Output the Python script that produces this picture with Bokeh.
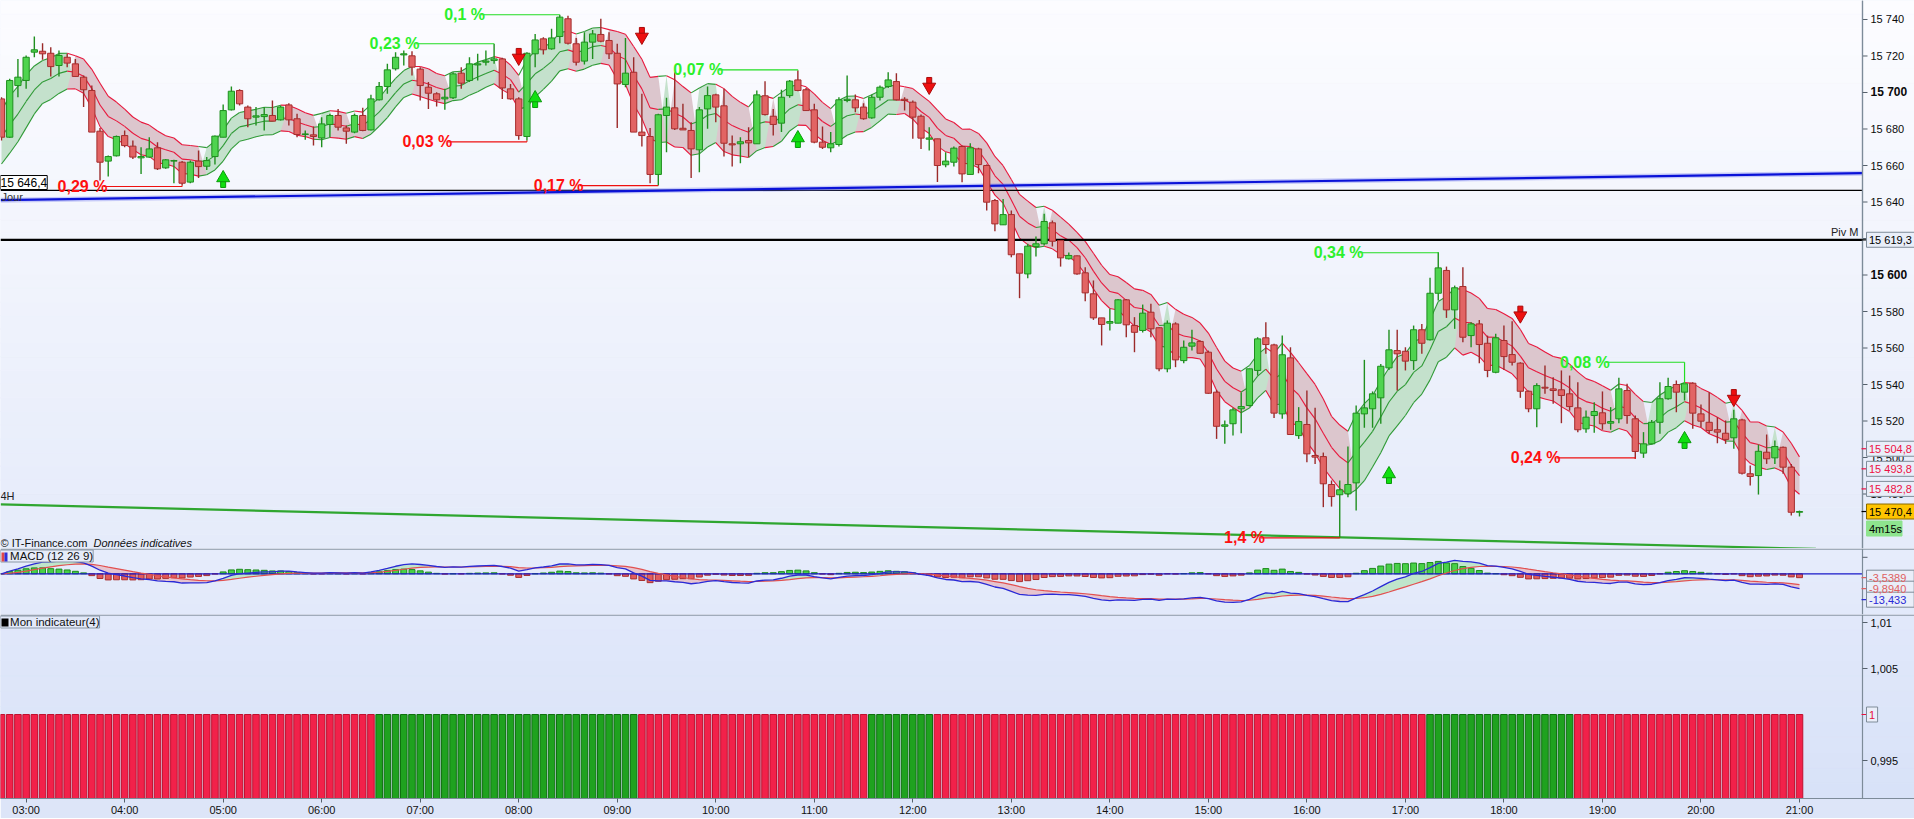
import numpy as np
from bokeh.plotting import figure
from bokeh.models import Range1d, FixedTicker, Label, BoxAnnotation
from bokeh.layouts import column
from bokeh.embed import file_html
from bokeh.resources import INLINE
from bokeh.core.properties import value

FONT = "Liberation Sans"

# ------------------------------------------------------------------ data
# 5-minute candles, first bar 02:45, last bar 21:00 (bar index = position)
hour_labels = ["03:00", "04:00", "05:00", "06:00", "07:00", "08:00", "09:00", "10:00", "11:00",
               "12:00", "13:00", "14:00", "15:00", "16:00", "17:00", "18:00", "19:00", "20:00", "21:00"]
hour_bars = [3, 15, 27, 39, 51, 63, 75, 87, 99, 111, 123, 135, 147, 159, 171, 183, 195, 207, 219]

opens = [
    15696.5, 15675.5, 15703.8, 15706.6, 15722.1, 15722.6, 15721.5, 15714.8, 15719.3, 15715.7,
    15708.4, 15701.1, 15678.8, 15662.4, 15665.3, 15676.4, 15670.6, 15664.2, 15664.6, 15669.7,
    15658.7, 15662.4, 15661.8, 15650.9, 15662.4, 15659.6, 15664.9, 15675.5, 15690.5, 15701.1,
    15692.0, 15686.5, 15686.8, 15687.4, 15685.0, 15693.2, 15685.6, 15677.0, 15676.8, 15675.1,
    15682.5, 15687.4, 15680.6, 15678.3, 15687.4, 15679.5, 15696.0, 15703.3, 15713.0, 15720.6,
    15720.1, 15712.8, 15702.9, 15699.3, 15696.5, 15697.1, 15710.6, 15706.6, 15715.1, 15716.6,
    15717.5, 15718.4, 15702.0, 15696.5, 15675.9, 15721.2, 15729.4, 15723.9, 15730.7, 15740.4,
    15726.7, 15717.2, 15727.6, 15731.8, 15728.5, 15721.5, 15704.4, 15711.1, 15678.3, 15675.9,
    15655.1, 15687.4, 15691.6, 15680.4, 15679.2, 15668.6, 15691.0, 15698.7, 15692.7, 15671.9,
    15671.9, 15673.7, 15671.9, 15698.2, 15687.0, 15683.2, 15698.3, 15706.9, 15701.5, 15690.5,
    15672.8, 15669.7, 15671.5, 15695.6, 15696.0, 15692.0, 15686.1, 15697.4, 15703.3, 15706.0,
    15696.3, 15694.7, 15687.0, 15674.4, 15674.6, 15660.4, 15661.8, 15670.4, 15655.1, 15669.1,
    15660.0, 15640.8, 15627.5, 15633.1, 15611.6, 15600.6, 15615.6, 15617.1, 15628.6, 15618.9,
    15608.9, 15610.5, 15601.2, 15589.7, 15576.5, 15573.6, 15573.6, 15586.4, 15572.3, 15569.6,
    15579.6, 15571.1, 15548.6, 15573.2, 15553.1, 15561.0, 15563.6, 15557.7, 15535.8, 15517.1,
    15518.5, 15526.7, 15528.5, 15547.7, 15565.6, 15561.7, 15523.9, 15554.6, 15512.0, 15518.1,
    15501.1, 15500.5, 15485.2, 15479.6, 15480.1, 15486.1, 15523.9, 15526.7, 15532.7, 15549.1,
    15558.6, 15558.2, 15553.1, 15570.0, 15564.5, 15590.0, 15602.5, 15580.9, 15593.7, 15566.8,
    15573.2, 15562.6, 15546.7, 15564.1, 15556.4, 15551.7, 15536.3, 15526.7, 15538.5, 15537.6,
    15537.1, 15534.9, 15527.2, 15515.7, 15523.0, 15524.5, 15518.8, 15521.2, 15536.7, 15521.2,
    15502.4, 15507.5, 15519.3, 15532.2, 15540.0, 15535.8, 15540.7, 15523.9, 15519.3, 15515.2,
    15513.3, 15510.8, 15520.6, 15491.1, 15490.1, 15502.9, 15499.8, 15505.6, 15494.7, 15470.0]

highs = [
    15697.4, 15707.5, 15718.4, 15720.3, 15730.7, 15727.0, 15724.8, 15723.0, 15721.2, 15718.4,
    15709.3, 15703.8, 15680.6, 15665.5, 15676.4, 15679.2, 15673.7, 15670.0, 15675.5, 15672.8,
    15663.6, 15663.1, 15662.4, 15662.7, 15668.2, 15664.6, 15676.4, 15693.4, 15703.3, 15701.8,
    15692.9, 15692.0, 15692.0, 15695.6, 15692.9, 15694.1, 15688.3, 15679.2, 15681.4, 15686.5,
    15688.3, 15691.0, 15681.9, 15688.3, 15691.6, 15698.7, 15705.7, 15715.7, 15722.1, 15723.0,
    15722.6, 15713.9, 15705.7, 15700.2, 15702.0, 15711.1, 15713.9, 15719.3, 15721.2, 15723.0,
    15726.7, 15719.0, 15704.7, 15697.4, 15722.1, 15732.1, 15730.3, 15734.9, 15742.6, 15742.0,
    15729.9, 15733.0, 15734.3, 15740.4, 15733.0, 15726.7, 15729.9, 15719.3, 15699.3, 15680.6,
    15688.3, 15697.1, 15711.1, 15693.8, 15683.7, 15692.0, 15703.3, 15699.3, 15702.0, 15676.4,
    15675.5, 15681.0, 15701.1, 15706.2, 15691.0, 15701.5, 15706.9, 15712.0, 15702.5, 15693.8,
    15681.4, 15678.3, 15697.4, 15709.3, 15698.9, 15694.1, 15698.9, 15703.8, 15711.1, 15710.6,
    15697.4, 15695.6, 15687.9, 15681.0, 15674.6, 15667.3, 15670.4, 15670.9, 15672.2, 15669.7,
    15660.5, 15641.7, 15641.7, 15635.3, 15611.6, 15617.1, 15621.1, 15633.5, 15629.9, 15618.9,
    15612.3, 15610.7, 15604.3, 15597.0, 15576.5, 15581.5, 15586.9, 15586.9, 15576.9, 15583.8,
    15584.2, 15571.4, 15575.1, 15574.1, 15564.1, 15570.0, 15564.1, 15558.6, 15537.1, 15520.3,
    15527.2, 15535.8, 15548.6, 15565.9, 15574.1, 15562.3, 15566.8, 15560.4, 15527.6, 15536.7,
    15527.2, 15502.7, 15487.4, 15487.4, 15506.0, 15528.5, 15553.5, 15536.2, 15551.3, 15570.0,
    15570.0, 15560.4, 15572.3, 15573.2, 15598.5, 15612.5, 15604.6, 15594.2, 15604.3, 15574.1,
    15575.4, 15566.8, 15567.8, 15572.3, 15574.7, 15552.2, 15536.7, 15540.7, 15550.4, 15544.0,
    15547.7, 15544.9, 15541.2, 15525.7, 15530.3, 15536.2, 15527.6, 15543.7, 15540.4, 15523.0,
    15513.9, 15520.6, 15541.2, 15543.7, 15542.2, 15540.4, 15541.2, 15529.0, 15535.8, 15522.1,
    15520.3, 15526.1, 15521.2, 15495.6, 15507.1, 15512.6, 15509.3, 15506.0, 15496.5, 15470.9]

lows = [
    15673.7, 15675.1, 15697.4, 15702.0, 15719.3, 15717.9, 15708.8, 15708.8, 15713.9, 15708.8,
    15692.0, 15678.3, 15651.8, 15654.0, 15664.9, 15670.0, 15663.6, 15655.4, 15664.2, 15657.6,
    15658.2, 15650.3, 15649.0, 15650.3, 15653.2, 15657.6, 15660.5, 15675.5, 15690.1, 15692.9,
    15681.0, 15681.9, 15679.2, 15684.3, 15684.6, 15681.9, 15675.5, 15674.1, 15670.9, 15670.0,
    15675.5, 15679.2, 15671.9, 15677.7, 15678.8, 15679.2, 15695.6, 15699.3, 15712.0, 15714.8,
    15709.3, 15695.6, 15691.0, 15692.3, 15690.5, 15696.5, 15702.0, 15705.7, 15706.6, 15714.8,
    15715.7, 15696.5, 15696.0, 15674.1, 15673.7, 15713.9, 15720.8, 15723.4, 15727.0, 15726.3,
    15714.8, 15715.3, 15718.4, 15727.6, 15718.4, 15680.6, 15702.9, 15678.3, 15670.4, 15650.3,
    15649.0, 15667.3, 15679.5, 15679.5, 15653.2, 15656.3, 15680.1, 15683.7, 15664.9, 15659.4,
    15661.3, 15664.6, 15671.9, 15687.4, 15676.4, 15678.3, 15697.1, 15700.7, 15689.8, 15672.2,
    15669.1, 15667.3, 15670.4, 15694.7, 15689.2, 15685.0, 15685.6, 15695.6, 15702.5, 15695.6,
    15690.1, 15674.6, 15669.1, 15668.2, 15650.9, 15659.1, 15659.4, 15650.8, 15655.1, 15655.8,
    15635.3, 15624.0, 15627.5, 15609.7, 15587.3, 15598.2, 15610.1, 15616.2, 15615.6, 15604.6,
    15608.5, 15600.2, 15585.6, 15575.4, 15561.4, 15569.6, 15573.5, 15565.9, 15557.7, 15568.5,
    15565.9, 15547.3, 15546.7, 15549.5, 15551.7, 15558.6, 15556.8, 15534.9, 15510.2, 15507.5,
    15512.0, 15513.3, 15527.9, 15544.9, 15556.8, 15521.7, 15521.2, 15512.6, 15510.2, 15497.4,
    15496.5, 15472.8, 15473.1, 15456.3, 15478.2, 15470.9, 15516.3, 15516.3, 15518.5, 15548.0,
    15536.7, 15547.7, 15548.0, 15556.8, 15564.1, 15586.0, 15576.5, 15570.5, 15563.2, 15560.4,
    15551.7, 15544.0, 15546.2, 15548.0, 15550.4, 15532.7, 15524.8, 15516.6, 15534.9, 15529.4,
    15518.8, 15525.7, 15513.9, 15513.5, 15513.5, 15515.2, 15515.2, 15518.8, 15518.5, 15499.3,
    15499.8, 15507.1, 15513.0, 15531.6, 15524.8, 15531.2, 15515.7, 15516.6, 15513.0, 15507.8,
    15507.5, 15504.8, 15490.7, 15484.6, 15479.7, 15496.5, 15496.5, 15491.1, 15468.2, 15467.7]

closes = [
    15675.5, 15706.6, 15708.4, 15719.3, 15723.4, 15721.2, 15714.2, 15720.3, 15716.1, 15708.8,
    15701.5, 15678.3, 15661.8, 15664.9, 15675.9, 15670.9, 15664.6, 15664.9, 15669.1, 15658.2,
    15663.1, 15662.7, 15650.3, 15661.8, 15659.4, 15662.7, 15676.1, 15690.1, 15700.7, 15693.8,
    15685.6, 15687.2, 15687.9, 15684.3, 15692.0, 15685.0, 15677.0, 15677.3, 15675.9, 15682.8,
    15687.4, 15681.0, 15678.8, 15687.4, 15679.2, 15696.5, 15703.3, 15712.4, 15719.3, 15721.2,
    15713.9, 15703.8, 15699.6, 15696.0, 15697.4, 15710.2, 15705.1, 15715.7, 15715.7, 15717.2,
    15718.4, 15702.5, 15696.5, 15676.4, 15721.5, 15728.8, 15723.4, 15729.9, 15741.3, 15727.0,
    15716.6, 15727.6, 15732.1, 15728.1, 15721.2, 15704.7, 15710.6, 15678.3, 15676.4, 15655.1,
    15687.8, 15692.0, 15680.1, 15679.5, 15669.1, 15690.5, 15698.3, 15692.0, 15672.2, 15671.3,
    15673.0, 15672.4, 15698.7, 15687.9, 15682.5, 15697.4, 15706.2, 15701.1, 15690.1, 15672.8,
    15670.0, 15671.9, 15696.0, 15696.3, 15691.6, 15685.6, 15697.4, 15702.9, 15706.9, 15696.0,
    15695.6, 15686.5, 15675.0, 15675.1, 15660.0, 15662.4, 15669.5, 15655.4, 15669.7, 15660.5,
    15639.9, 15628.0, 15633.1, 15611.1, 15601.0, 15615.8, 15617.1, 15629.3, 15618.5, 15609.4,
    15610.7, 15600.6, 15590.2, 15576.5, 15572.9, 15574.5, 15586.4, 15572.7, 15568.6, 15579.1,
    15570.5, 15548.6, 15573.6, 15553.5, 15560.4, 15562.8, 15557.1, 15535.2, 15517.1, 15517.9,
    15526.1, 15527.9, 15548.6, 15565.0, 15561.9, 15524.3, 15556.3, 15512.6, 15519.7, 15502.0,
    15500.2, 15485.6, 15478.6, 15482.3, 15485.2, 15524.3, 15527.2, 15534.9, 15550.0, 15559.0,
    15556.8, 15552.8, 15570.0, 15562.6, 15590.0, 15603.9, 15580.9, 15593.0, 15565.9, 15573.2,
    15561.9, 15547.7, 15565.6, 15555.3, 15552.2, 15536.3, 15526.7, 15539.4, 15538.0, 15536.7,
    15534.0, 15527.9, 15515.2, 15522.1, 15525.2, 15518.5, 15519.7, 15537.6, 15523.0, 15503.3,
    15507.5, 15519.3, 15532.2, 15538.9, 15535.8, 15540.4, 15524.3, 15519.9, 15514.8, 15513.9,
    15509.9, 15521.2, 15491.4, 15489.6, 15503.4, 15499.3, 15506.0, 15494.7, 15470.0, 15470.4]

# swing annotations (zig-zag percentage labels)
swing_bar = [22, 60, 64, 68, 80, 97, 163, 175, 199, 205]
swing_level = [15648.5, 15726.7, 15673.0, 15742.6, 15649.0, 15712.4, 15456.0, 15612.2, 15499.8, 15552.2]
swing_text = ["0,29 %", "0,23 %", "0,03 %", "0,1 %", "0,17 %", "0,07 %", "1,4 %", "0,34 %", "0,24 %", "0,08 %"]
swing_kind = ["lo", "hi", "lo", "hi", "lo", "hi", "lo", "hi", "lo", "hi"]

# signal arrows
up_arrow_bar = [27, 65, 97, 169, 205]
up_arrow_price = [15651.8, 15695.6, 15673.7, 15489.6, 15508.8]
down_arrow_bar = [63, 78, 113, 185, 211]
down_arrow_price = [15720.3, 15731.8, 15704.4, 15579.1, 15533.4]

# drawn lines / levels
trend_blue_x = [-0.1, 226.7]
trend_blue_y = [15641.0, 15655.8]
trend_green_x = [-0.1, 221.0]
trend_green_y = [15474.3, 15449.9]
jour_level = 15646.4
jour_text = "15 646,4"
piv_m_level = 15619.3
piv_m_text = "15 619,3"
band_last = [15504.8, 15493.8, 15482.8]
band_last_text = ["15 504,8", "15 493,8", "15 482,8"]
last_price = 15470.4
last_price_text = "15 470,4"
countdown_text = "4m15s"
main_ticks = [15480, 15500, 15520, 15540, 15560, 15580, 15620, 15640, 15660, 15680, 15720, 15740]
main_tick_text = ["15 480", "15 500", "15 520", "15 540", "15 560", "15 580", "15 620", "15 640",
                  "15 660", "15 680", "15 720", "15 740"]
main_bold_ticks = [15600, 15700]
main_bold_text = ["15 600", "15 700"]

macd_box_values = [-3.5389, -9.8940, -13.433]
macd_box_text = ["-3,5389", "-9,8940", "-13,433"]
macd_ticks = [15.0]

ind_runs = [("R", 46), ("G", 32), ("R", 28), ("G", 8), ("R", 60), ("G", 18), ("R", 28)]
ind_ticks = [0.995, 1.005, 1.01]
ind_tick_text = ["0,995", "1,005", "1,01"]
ind_box_value = 1.0
ind_box_text = "1"

# ------------------------------------------------------------------ layout constants
FW = 1914                 # frame width (px) - axis area drawn inside the frame
AXIS_PX = 1862            # x pixel of the right price axis line
PXB = 8.21                # pixels per 5-min bar
X0 = -1.0 / PXB
X1 = X0 + FW / PXB
XA = X0 + AXIS_PX / PXB


def dx(px):
    return px / PXB


MAIN_H, MACD_H, IND_H = 548, 66, 184
Y_TOP, Y_BOT = 15750.41, 15450.14
PX = (Y_TOP - Y_BOT) / MAIN_H
M_TOP, M_BOT = 23.0, -37.0
MPX = (M_TOP - M_BOT) / MACD_H
I_TOP, I_BOT = 1.01087, 0.99087
IPX = (I_TOP - I_BOT) / IND_H
AXIS_GREY = "#7d8b99"
SEP_GREY = "#8a97a5"

o = np.array(opens); h = np.array(highs); l = np.array(lows); c = np.array(closes)
h = np.maximum(h, np.maximum(o, c)); l = np.minimum(l, np.minimum(o, c))
idx = np.arange(len(c))
bull = c >= o


def ema(a, n):
    k = 2.0 / (n + 1)
    out = np.empty(len(a))
    out[0] = a[0]
    for i in range(1, len(a)):
        out[i] = out[i - 1] + k * (a[i] - out[i - 1])
    return out


xr = Range1d(X0, X1)


def hexcol(rgb):
    return "#%02x%02x%02x" % tuple(int(round(v)) for v in rgb)


def gradient(p, y0, y1, c_top, c_bot, n=40):
    ys = np.linspace(y0, y1, n + 1)
    cols = [hexcol([cb + (ct - cb) * (k + 0.5) / n for ct, cb in zip(c_top, c_bot)]) for k in range(n)]
    p.quad(left=X0 - 5, right=X1 + 5, bottom=ys[:-1], top=ys[1:], fill_color=cols,
           line_color=cols, line_width=0.6, level="image")


def mkfig(fh, yr, fill, xaxis=False):
    p = figure(title=None, frame_width=FW, frame_height=fh, x_range=xr, y_range=yr,
               output_backend="svg", toolbar_location=None, y_axis_location=None,
               x_axis_location="below" if xaxis else None,
               min_border_left=0, min_border_right=0, min_border_top=0, min_border_bottom=0)
    p.grid.visible = False
    p.border_fill_color = fill
    p.background_fill_color = fill
    p.outline_line_color = None
    return p


def right_axis(p, ticks, texts, ytop, ybot, bold=False):
    p.segment(x0=XA, y0=ybot, x1=XA, y1=ytop, line_color=AXIS_GREY, line_width=1.2)
    if ticks:
        p.segment(x0=XA, y0=ticks, x1=XA + dx(5), y1=ticks, line_color="#55606c", line_width=1)
        p.text(x=XA + dx(8), y=ticks, text=texts, text_baseline="middle", text_align="left",
               text_font=value(FONT), text_font_size="12px" if bold else "11px",
               text_font_style="bold" if bold else "normal", text_color="#0a0a0a")


def boxes(p, ys, texts, colors, bgs, borders, tick_colors):
    widths = [len(t) * 6.1 + 5 for t in texts]
    xs = [XA + dx(4 + w / 2.0) for w in widths]
    p.segment(x0=XA - dx(1), y0=ys, x1=XA + dx(5), y1=ys, line_color=tick_colors, line_width=1.2)
    p.rect(x=xs, y=ys, width=widths, height=15, width_units="screen", height_units="screen",
           fill_color=bgs, line_color=borders, line_width=1)
    p.text(x=XA + dx(6.5), y=ys, text=texts, text_color=colors, text_baseline="middle",
           text_align="left", text_font=value(FONT), text_font_size="11px")


# ------------------------------------------------------------------ main panel
p = mkfig(MAIN_H, Range1d(Y_BOT, Y_TOP), "#eef2fd")
gradient(p, Y_BOT, Y_TOP, (252, 252, 255), (229, 235, 250))

# envelope band (EMA of closes +/- fraction of average range)
mid = ema(c, 8)
half = 0.62 * ema(h - l, 10)
upper = mid + half
lower = mid - half
rising = np.r_[True, np.diff(mid) > 0]
p.varea(x=idx, y1=lower, y2=np.where(rising, upper, lower), fill_color="#c4e1cc")
p.varea(x=idx, y1=lower, y2=np.where(~rising, upper, lower), fill_color="#dcc6cd")
seg_col = ["#2f9a36" if r else "#e8173c" for r in rising[1:]]
for band in (upper, mid, lower):
    p.segment(x0=idx[:-1], y0=band[:-1], x1=idx[1:], y1=band[1:], line_color=seg_col, line_width=1.1)

# levels & trend lines
p.segment(x0=X0, y0=jour_level, x1=XA, y1=jour_level, line_color="#000000", line_width=1.3)
p.segment(x0=X0, y0=piv_m_level, x1=XA, y1=piv_m_level, line_color="#000000", line_width=2.2)
p.line(trend_blue_x, trend_blue_y, line_color="#6f78ee", line_width=5, line_alpha=0.35)
p.line(trend_blue_x, trend_blue_y, line_color="#0a12d8", line_width=2.2)
p.line(trend_green_x, trend_green_y, line_color="#2fa62f", line_width=2.2)

# candles
wick_col = ["#1f8f1f" if b else "#9b2a2a" for b in bull]
p.segment(x0=idx, y0=l, x1=idx, y1=h, line_color=wick_col, line_width=1.4)
p.vbar(x=idx, width=0.76, top=np.maximum(o, c), bottom=np.minimum(o, c),
       fill_color=["#4fd44f" if b else "#e26464" for b in bull],
       line_color=["#1e8e1e" if b else "#a42e2e" for b in bull], line_width=1)

# swing annotations
sb = np.array(swing_bar)
sl = np.array(swing_level)
scol_line = ["#22dd22" if k == "hi" else "#ee1010" for k in swing_kind]
scol_text = ["#2cf02c" if k == "hi" else "#ff1010" for k in swing_kind]
ext = np.array([h[b] if k == "hi" else l[b] for b, k in zip(swing_bar, swing_kind)])
p.segment(x0=sb - 9.6, y0=sl, x1=sb, y1=sl, line_color=scol_line, line_width=1.2)
p.segment(x0=sb, y0=sl, x1=sb, y1=ext, line_color=scol_line, line_width=1.2)
p.text(x=sb - 9.1, y=sl, text=swing_text, text_align="right", text_baseline="middle",
       text_font=value(FONT), text_font_size="16px", text_font_style="bold", text_color=scol_text)

# arrows
ub = np.array(up_arrow_bar); up_ = np.array(up_arrow_price)
db = np.array(down_arrow_bar); dp_ = np.array(down_arrow_price)
p.rect(x=ub, y=up_ - 3.0 * PX, width=5, height=8, width_units="screen", height_units="screen",
       fill_color="#10e010", line_color="#0a9a0a")
p.scatter(x=ub, y=up_ + 2.5 * PX, marker="triangle", size=13, fill_color="#10e010", line_color="#0a9a0a")
p.rect(x=db, y=dp_ + 3.0 * PX, width=5, height=8, width_units="screen", height_units="screen",
       fill_color="#ee1010", line_color="#aa0a0a")
p.scatter(x=db, y=dp_ - 2.5 * PX, marker="inverted_triangle", size=13, fill_color="#ee1010",
          line_color="#aa0a0a")

# texts inside the panel
p.add_layout(Label(x=0, x_units="screen", y=jour_level + 0.8 * PX, text=jour_text, text_font=FONT,
                   text_font_size="12px", text_color="#000000", text_baseline="bottom",
                   background_fill_color="#ffffff", border_line_color="#000000"))
p.add_layout(Label(x=1, x_units="screen", y=jour_level - 0.3 * PX, text="Jour", text_font=FONT,
                   text_font_size="11px", text_color="#333333", text_baseline="top"))
p.add_layout(Label(x=AXIS_PX - 4, x_units="screen", y=piv_m_level + 1.5 * PX, text="Piv M", text_font=FONT,
                   text_font_size="11px", text_color="#222222", text_align="right", text_baseline="bottom"))
p.add_layout(Label(x=0, x_units="screen", y=trend_green_y[0] + 2 * PX, text="4H", text_font=FONT,
                   text_font_size="11px", text_color="#222222", text_baseline="bottom"))
p.add_layout(Label(x=0, x_units="screen", y=Y_BOT + 6 * PX, text="\u00a9 IT-Finance.com",
                   text_font=FONT, text_font_size="11px", text_color="#111111", text_baseline="middle"))
p.add_layout(Label(x=93, x_units="screen", y=Y_BOT + 6 * PX, text="Donn\u00e9es indicatives",
                   text_font=FONT, text_font_size="11px", text_font_style="italic",
                   text_color="#111111", text_baseline="middle"))

# price axis
right_axis(p, main_ticks, main_tick_text, Y_TOP, Y_BOT)
right_axis(p, main_bold_ticks, main_bold_text, Y_TOP, Y_BOT, bold=True)
bx_y = [piv_m_level] + band_last + [last_price, last_price - 17 * PX]
bx_t = [piv_m_text] + band_last_text + [last_price_text, countdown_text]
boxes(p, bx_y, bx_t,
      ["#000000", "#ee1044", "#ee1044", "#ee1044", "#000000", "#000000"],
      ["#e9eef9", "#e9eef9", "#e9eef9", "#e9eef9", "#ffc400", "#8ee48e"],
      ["#7f8c99", "#7f8c99", "#7f8c99", "#7f8c99", "#8a6a00", "#8ee48e"],
      ["#000000", "#ee1044", "#ee1044", "#ee1044", "#000000", None])

# ------------------------------------------------------------------ MACD panel
pm = mkfig(MACD_H, Range1d(M_BOT, M_TOP), "#e5ebfb")
gradient(pm, M_BOT, M_TOP, (230, 236, 251), (226, 233, 250), n=6)
pm.segment(x0=X0, y0=M_TOP - 0.6 * MPX, x1=X1, y1=M_TOP - 0.6 * MPX, line_color=SEP_GREY, line_width=1.2)

macd = ema(c, 12) - ema(c, 26)
sig = ema(macd, 9)
hist = macd - sig
pm.varea(x=idx, y1=sig, y2=np.where(macd > sig, macd, sig), fill_color="#bfe5cb")
pm.varea(x=idx, y1=sig, y2=np.where(macd <= sig, macd, sig), fill_color="#e6c4cf")
pm.vbar(x=idx, width=0.72, top=np.maximum(hist, 0), bottom=np.minimum(hist, 0),
        fill_color=["#48d048" if v >= 0 else "#e25c5c" for v in hist],
        line_color=["#1e8a1e" if v >= 0 else "#a83030" for v in hist], line_width=1)
pm.segment(x0=X0, y0=0, x1=XA, y1=0, line_color="#1818c8", line_width=1.2)
pm.line(idx, sig, line_color="#e25050", line_width=1.2)
pm.line(idx, macd, line_color="#2a2ad6", line_width=1.3)

pm.add_layout(Label(x=0, x_units="screen", y=M_TOP - 1.5 * MPX,
                    text="\u00a0\u00a0\u00a0MACD (12 26 9)", text_font=FONT,
                    text_font_size="11.5px", text_color="#111111", text_baseline="top",
                    background_fill_color="#e6ecf9", border_line_color=SEP_GREY))
pm.add_layout(BoxAnnotation(left=1, right=4, left_units="screen", right_units="screen",
                            top=M_TOP - 4 * MPX, bottom=M_TOP - 13 * MPX, fill_color="#e04848",
                            fill_alpha=1, line_color=None))
pm.add_layout(BoxAnnotation(left=4, right=7, left_units="screen", right_units="screen",
                            top=M_TOP - 4 * MPX, bottom=M_TOP - 13 * MPX, fill_color="#3030d8",
                            fill_alpha=1, line_color=None))
right_axis(pm, macd_ticks, [""], M_TOP, M_BOT)
# stack the value boxes so they do not overlap (as the platform does)
m_y = []
for v in macd_box_values:
    yy = v if not m_y else min(v, m_y[-1] - 11 * MPX)
    m_y.append(yy)
boxes(pm, m_y, macd_box_text, ["#e06060", "#e06060", "#2a2ad6"], ["#e9eef9"] * 3, ["#7f8c99"] * 3,
      ["#e06060", "#e06060", "#2a2ad6"])

# ------------------------------------------------------------------ indicator panel
pi = mkfig(IND_H, Range1d(I_BOT, I_TOP), "#dde5f8", xaxis=True)
gradient(pi, I_BOT, I_TOP, (225, 232, 250), (216, 226, 248), n=12)
pi.segment(x0=X0, y0=I_TOP - 0.6 * IPX, x1=X1, y1=I_TOP - 0.6 * IPX, line_color=SEP_GREY, line_width=1.2)

states = []
for s, n in ind_runs:
    states += [s] * n
ind_values = [1.0] * len(states)
pi.vbar(x=idx[:len(states)], width=0.8, top=ind_values, bottom=I_BOT - 0.01,
        fill_color=["#1fa21f" if s == "G" else "#f2214a" for s in states],
        line_color=["#0f700f" if s == "G" else "#c0102e" for s in states], line_width=1)
right_axis(pi, ind_ticks, ind_tick_text, I_TOP, I_BOT)
boxes(pi, [ind_box_value], [ind_box_text], ["#e8103c"], ["#e9eef9"], ["#7f8c99"], ["#e8103c"])
pi.add_layout(Label(x=0, x_units="screen", y=I_TOP - 1.5 * IPX,
                    text="\u00a0\u00a0\u00a0Mon indicateur(4)", text_font=FONT,
                    text_font_size="11.5px", text_color="#111111", text_baseline="top",
                    background_fill_color="#e2e9f9", border_line_color=SEP_GREY))
pi.add_layout(BoxAnnotation(left=1, right=8, left_units="screen", right_units="screen",
                            top=I_TOP - 4 * IPX, bottom=I_TOP - 12 * IPX, fill_color="#000000",
                            fill_alpha=1, line_color=None))

xa = pi.xaxis[0]
xa.ticker = FixedTicker(ticks=hour_bars)
xa.major_label_overrides = {b: s for b, s in zip(hour_bars, hour_labels)}
xa.axis_line_color = AXIS_GREY
xa.major_tick_line_color = "#55606c"
xa.major_tick_in = 0
xa.major_tick_out = 4
xa.minor_tick_line_color = None
xa.major_label_standoff = 1
xa.major_label_text_font = FONT
xa.major_label_text_font_size = "11px"
xa.major_label_text_color = "#111111"

layout = column(p, pm, pi, spacing=0)
open("out.html", "w").write(file_html(layout, INLINE))
